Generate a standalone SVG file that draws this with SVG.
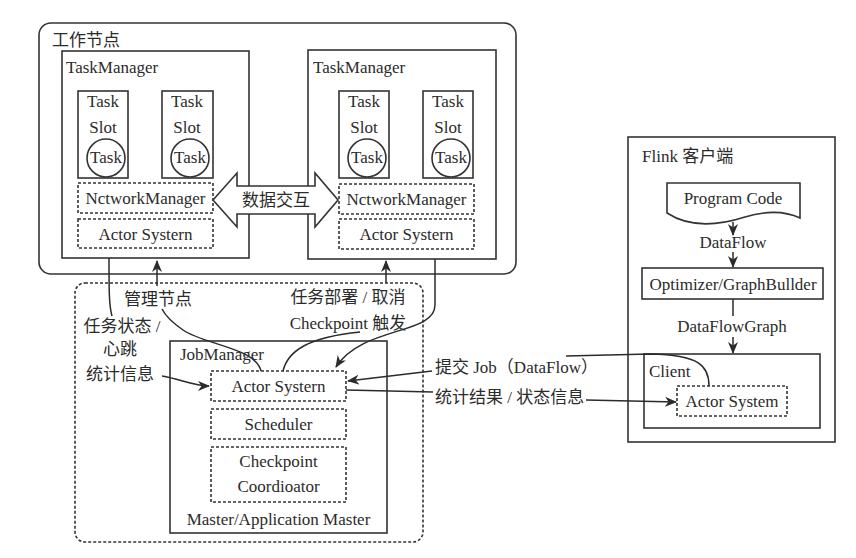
<svg xmlns="http://www.w3.org/2000/svg" width="856" height="558" viewBox="0 0 856 558">
<defs>
<style>
text{font-family:"Liberation Serif","Noto Sans CJK SC",serif;font-size:17px;fill:#2b2b2b}
.c{text-anchor:middle}
.box{fill:none;stroke:#333;stroke-width:1.6}
.dash{fill:none;stroke:#333;stroke-width:1.6;stroke-dasharray:3 2}
.ln{fill:none;stroke:#2b2b2b;stroke-width:1.5}
.arr{marker-end:url(#ah)}
</style>
<marker id="ah" viewBox="0 0 12 10" refX="11" refY="5" markerWidth="12" markerHeight="10" markerUnits="userSpaceOnUse" orient="auto">
<path d="M0,0 L12,5 L0,10 L3.5,5 Z" fill="#2b2b2b"/>
</marker>
</defs>
<rect width="856" height="558" fill="#fff"/>

<g id="worker-nodes">
<rect class="box" x="39" y="23" width="477" height="251" rx="12"/>
<text x="52" y="46">工作节点</text>
</g>

<g id="taskmanager-left">
<rect class="box" x="62" y="51" width="187" height="207"/>
<text x="66" y="73">TaskManager</text>
<g id="slot-l1">
<rect class="box" x="78" y="91" width="50" height="87"/>
<text class="c" x="103" y="107">Task</text>
<text class="c" x="103" y="133">Slot</text>
<circle class="box" cx="106" cy="158" r="19"/>
<text class="c" x="106" y="163">Task</text>
</g>
<g id="slot-l2">
<rect class="box" x="162" y="91" width="51" height="87"/>
<text class="c" x="187" y="107">Task</text>
<text class="c" x="187" y="133">Slot</text>
<circle class="box" cx="190" cy="158" r="19"/>
<text class="c" x="190" y="163">Task</text>
</g>
<rect class="dash" x="78" y="183" width="135" height="30"/>
<text class="c" x="145.5" y="204">NctworkManager</text>
<rect class="dash" x="78" y="219" width="135" height="29"/>
<text class="c" x="145.5" y="240">Actor Systern</text>
</g>

<g id="taskmanager-right">
<rect class="box" x="308" y="50" width="188" height="209"/>
<text x="313" y="73">TaskManager</text>
<g id="slot-r1">
<rect class="box" x="339" y="91" width="50" height="87"/>
<text class="c" x="364" y="107">Task</text>
<text class="c" x="364" y="133">Slot</text>
<circle class="box" cx="367" cy="158" r="19"/>
<text class="c" x="367" y="163">Task</text>
</g>
<g id="slot-r2">
<rect class="box" x="423" y="91" width="50" height="87"/>
<text class="c" x="448" y="107">Task</text>
<text class="c" x="448" y="133">Slot</text>
<circle class="box" cx="451" cy="158" r="19"/>
<text class="c" x="451" y="163">Task</text>
</g>
<rect class="dash" x="339" y="184" width="135" height="30"/>
<text class="c" x="406.5" y="205">NctworkManager</text>
<rect class="dash" x="339" y="219" width="135" height="30"/>
<text class="c" x="406.5" y="240">Actor Systern</text>
</g>

<g id="data-exchange">
<polygon points="213,200 237,173 237,186 315,186 315,173 338,200 315,227 315,214 237,214 237,227" fill="#fff" stroke="#333" stroke-width="1.6"/>
<text class="c" x="276" y="206">数据交互</text>
</g>

<g id="master">
<rect class="dash" x="75" y="283" width="348" height="259" rx="10"/>
<rect class="box" x="170" y="341" width="217" height="192"/>
<text x="180" y="360">JobManager</text>
<rect class="dash" x="211" y="371" width="135" height="30"/>
<text class="c" x="278.5" y="392">Actor Systern</text>
<rect class="dash" x="211" y="409" width="135" height="30"/>
<text class="c" x="278.5" y="430">Scheduler</text>
<rect class="dash" x="211" y="447" width="135" height="55"/>
<text class="c" x="278.5" y="467">Checkpoint</text>
<text class="c" x="278.5" y="492">Coordioator</text>
<text class="c" x="278.5" y="525">Master/Application Master</text>
</g>

<g id="flink-client">
<rect class="box" x="628" y="137" width="207" height="305"/>
<text x="642" y="162">Flink 客户端</text>
<g id="program-code">
<path class="box" d="M667,183 L800,183 L800,218 C785,211 765,211 745,217 C720,225 690,228 667,213 Z"/>
<text class="c" x="733" y="204">Program Code</text>
</g>
<g id="optimizer">
<rect class="box" x="642" y="268" width="181" height="31"/>
<text class="c" x="733" y="290">Optimizer/GraphBullder</text>
</g>
<g id="client">
<rect class="box" x="644" y="354" width="176" height="74"/>
<text x="649" y="377">Client</text>
<rect class="dash" x="677" y="386" width="110" height="30"/>
<text class="c" x="732" y="407">Actor System</text>
</g>
</g>

<g id="connectors">
<path class="ln arr" d="M733,222 L733,235"/>
<path class="ln arr" d="M733,252 L733,267"/>
<path class="ln" d="M733,299 L733,316"/>
<path class="ln arr" d="M733,337 L733,353"/>
<path class="ln" d="M109,258 C109,290 109,306 112,316"/>
<path class="ln arr" d="M162,376 C180,379 194,386 209,386"/>
<path class="ln arr" d="M157,286 L157,261"/>
<path class="ln" d="M261,371 C256,348 205,345 183,330 C170,321 164,313 162,309"/>
<path class="ln" d="M283,371 C288,350 310,337 360,332"/>
<path class="ln arr" d="M386,283 L386,261"/>
<path class="ln arr" d="M435,259 L435,305 C435,335 362,326 336,367"/>
<path class="ln" d="M709,386 C709,366 700,355 650,354 L566,356"/>
<path class="ln arr" d="M432,371 L348,381"/>
<path class="ln" d="M346,390 L433,392"/>
<path class="ln arr" d="M586,400 L676,402"/>
</g>

<g id="labels">
<text class="c" x="158" y="305">管理节点</text>
<text class="c" x="122" y="332">任务状态 /</text>
<text class="c" x="120" y="355">心跳</text>
<text class="c" x="120" y="380">统计信息</text>
<text class="c" x="348" y="303">任务部署 / 取消</text>
<text class="c" x="348" y="329">Checkpoint 触发</text>
<text x="435" y="373">提交 Job（DataFlow）</text>
<text x="435" y="403">统计结果 / 状态信息</text>
<text class="c" x="733" y="248">DataFlow</text>
<text class="c" x="732" y="332">DataFlowGraph</text>
</g>
</svg>
